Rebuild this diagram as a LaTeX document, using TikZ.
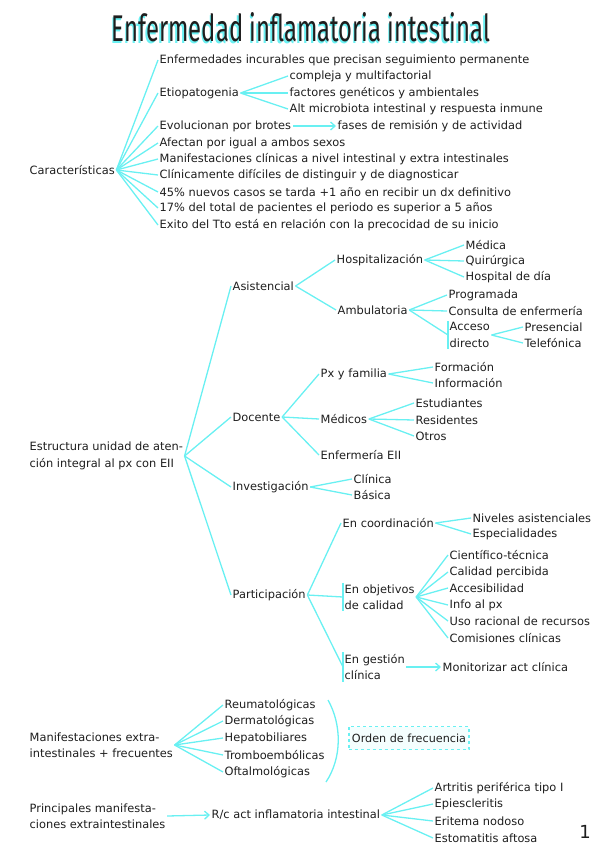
\documentclass[tikz,border=0pt]{standalone}
\usepackage{fontspec}
\setmainfont{DejaVu Sans}
\newfontfamily\titlefont{Fira Sans}
\usetikzlibrary{arrows.meta}
\definecolor{sky}{RGB}{105,240,242}
\definecolor{ink}{RGB}{30,30,30}
\tikzset{
  txt/.style={anchor=west, inner sep=1.5pt, text=ink, font=\fontsize{11.4}{16.5}\selectfont},
  two/.style={txt, align=left},
  link/.style={draw=sky, line width=1.3pt},
  fwd/.style={link, -{Straight Barb[length=4.5pt,width=8pt]}}
}
\begin{document}
\begin{tikzpicture}[x=1pt,y=-1pt]
\useasboundingbox (0,0) rectangle (599,848);
\node[inner sep=0, anchor=base, text=sky] (shadow) at (299.5,43.5) {\resizebox{378pt}{29pt}{\titlefont Enfermedad inflamatoria intestinal}};
\node[inner sep=0, anchor=base, text=ink] (title) at (301,42) {\resizebox{378pt}{29pt}{\titlefont Enfermedad inflamatoria intestinal}};
\node[txt] (car) at (28,170) {Características};
\node[txt] (c1) at (158,60) {Enfermedades incurables que precisan seguimiento permanente};
\node[txt] (etio) at (158,93) {Etiopatogenia};
\node[txt] (e1) at (288,76) {compleja y multifactorial};
\node[txt] (e2) at (288,93) {factores genéticos y ambientales};
\node[txt] (e3) at (288,109) {Alt microbiota intestinal y respuesta inmune};
\node[txt] (evol) at (158,126) {Evolucionan por brotes};
\node[txt] (fases) at (336,126) {fases de remisión y de actividad};
\node[txt] (c4) at (158,143) {Afectan por igual a ambos sexos};
\node[txt] (c5) at (158,159) {Manifestaciones clínicas a nivel intestinal y extra intestinales};
\node[txt] (c6) at (158,175) {Clínicamente difíciles de distinguir y de diagnosticar};
\node[txt] (c7) at (158,192) {45\% nuevos casos se tarda +1 año en recibir un dx definitivo};
\node[txt] (c8) at (158,208) {17\% del total de pacientes el periodo es superior a 5 años};
\node[txt] (c9) at (158,225) {Exito del Tto está en relación con la precocidad de su inicio};
\foreach \n in {c1,etio,evol,c4,c5,c6,c7,c8,c9}
  \draw[link] (car.east) -- (\n.west);
\foreach \n in {e1,e2,e3}
  \draw[link] (etio.east) -- (\n.west);
\draw[fwd] (evol.east) -- (fases.west);
% estructura
\node[two] (estr) at (28,456) {Estructura unidad de aten-\\ción integral al px con EII};
\node[txt] (asis) at (231,286) {Asistencial};
\node[txt] (hosp) at (335,260) {Hospitalización};
\node[txt] (med) at (464,245) {Médica};
\node[txt] (quir) at (464,261) {Quirúrgica};
\node[txt] (hdia) at (464,277) {Hospital de día};
\node[txt] (amb) at (336,310) {Ambulatoria};
\node[txt] (prog) at (447,295) {Programada};
\node[txt] (cons) at (447,311) {Consulta de enfermería};
\node[two] (acc) at (448,335) {Acceso\\directo};
\node[txt] (pres) at (523,327) {Presencial};
\node[txt] (tel) at (523,343) {Telefónica};
\node[txt] (doc) at (231,417) {Docente};
\node[txt] (pxf) at (319,374) {Px y familia};
\node[txt] (form) at (433,367) {Formación};
\node[txt] (info) at (433,383) {Información};
\node[txt] (medc) at (319,419) {Médicos};
\node[txt] (est) at (414,403) {Estudiantes};
\node[txt] (res) at (414,420) {Residentes};
\node[txt] (otr) at (414,436) {Otros};
\node[txt] (enf) at (319,455) {Enfermería EII};
\node[txt] (inv) at (231,487) {Investigación};
\node[txt] (cli) at (352,479) {Clínica};
\node[txt] (bas) at (352,495) {Básica};
\node[txt] (part) at (231,595) {Participación};
\node[txt] (coord) at (341,523) {En coordinación};
\node[txt] (niv) at (471,518) {Niveles asistenciales};
\node[txt] (esp) at (471,534) {Especialidades};
\node[two] (obj) at (343,597) {En objetivos\\de calidad};
\node[txt] (cient) at (448,555) {Científico-técnica};
\node[txt] (calp) at (448,572) {Calidad percibida};
\node[txt] (acces) at (448,588) {Accesibilidad};
\node[txt] (infopx) at (448,605) {Info al px};
\node[txt] (uso) at (448,621) {Uso racional de recursos};
\node[txt] (comis) at (448,638) {Comisiones clínicas};
\node[two] (gest) at (343,667) {En gestión\\clínica};
\node[txt] (monit) at (441,667) {Monitorizar act clínica};
\foreach \n in {asis,doc,inv,part}
  \draw[link] (estr.east) -- (\n.west);
\foreach \n in {hosp,amb}
  \draw[link] (asis.east) -- (\n.west);
\foreach \n in {med,quir,hdia}
  \draw[link] (hosp.east) -- (\n.west);
\foreach \n in {prog,cons,acc}
  \draw[link] (amb.east) -- (\n.west);
\foreach \n in {pres,tel}
  \draw[link] (acc.east) -- (\n.west);
\foreach \n in {pxf,medc,enf}
  \draw[link] (doc.east) -- (\n.west);
\foreach \n in {form,info}
  \draw[link] (pxf.east) -- (\n.west);
\foreach \n in {est,res,otr}
  \draw[link] (medc.east) -- (\n.west);
\foreach \n in {cli,bas}
  \draw[link] (inv.east) -- (\n.west);
\foreach \n in {coord,obj,gest}
  \draw[link] (part.east) -- (\n.west);
\foreach \n in {niv,esp}
  \draw[link] (coord.east) -- (\n.west);
\foreach \n in {cient,calp,acces,infopx,uso,comis}
  \draw[link] (obj.east) -- (\n.west);
\draw[fwd] (gest.east) -- (monit.west);
\foreach \n in {acc,obj,gest}
  \draw[link] (\n.north west) -- (\n.south west);
% manifestaciones
\node[two] (mani) at (28,745) {Manifestaciones extra-\\intestinales + frecuentes};
\node[txt] (reu) at (223,705) {Reumatológicas};
\node[txt] (derm) at (223,721) {Dermatológicas};
\node[txt] (hepa) at (223,738) {Hepatobiliares};
\node[txt] (trom) at (223,755) {Tromboembólicas};
\node[txt] (oft) at (223,772) {Oftalmológicas};
\foreach \n in {reu,derm,hepa,trom,oft}
  \draw[link] (mani.east) -- (\n.west);
\draw[link] (328,700) .. controls (342,725) and (342,758) .. (326,782);
\node[draw=sky, dashed, line width=1.1pt, fill=sky!7, text=ink, inner xsep=3pt, minimum height=23pt, font=\fontsize{11.2}{16}\selectfont] (orden) at (409,738) {Orden de frecuencia};
% principales
\node[two] (prin) at (28,816) {Principales manifesta-\\ciones extraintestinales};
\node[txt] (rc) at (210,815) {R/c act inflamatoria intestinal};
\node[txt] (art) at (433,788) {Artritis periférica tipo I};
\node[txt] (epi) at (433,804) {Epiescleritis};
\node[txt] (eri) at (433,821) {Eritema nodoso};
\node[txt] (esto) at (433,838) {Estomatitis aftosa};
\draw[fwd] (prin.east) -- (rc.west);
\foreach \n in {art,epi,eri,esto}
  \draw[link] (rc.east) -- (\n.west);
\node[text=ink, font=\fontsize{18}{18}\selectfont] (pagenum) at (585,832) {1};
\end{tikzpicture}
\end{document}
